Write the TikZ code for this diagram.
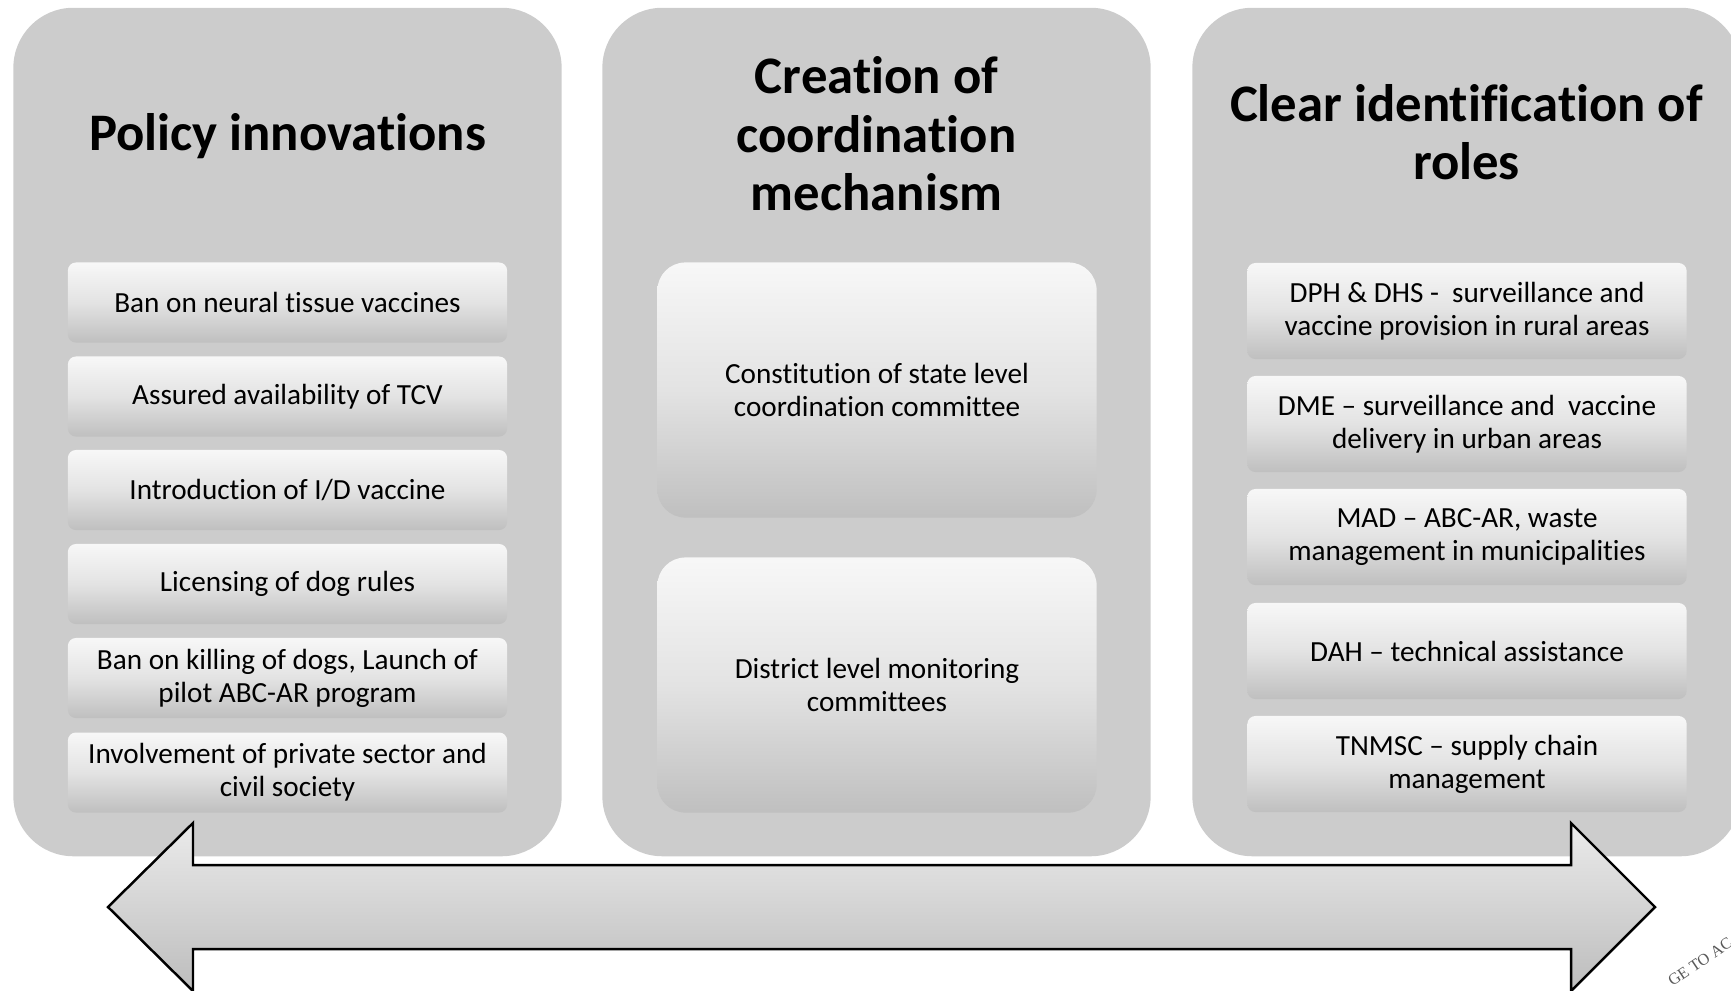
\documentclass[tikz,border=0pt]{standalone}
\usepackage{fontspec}
\setmainfont[Ligatures=NoCommon]{Carlito}
\newfontfamily\stampfont{Liberation Serif}

\begin{document}
\begin{tikzpicture}[x=0.01cm, y=-0.01cm,
    panel/.style={fill=black!20, rounded corners=0.6cm, minimum width=5.48cm, minimum height=8.48cm, inner sep=0pt},
    headline/.style={align=center, font=\fontsize{15}{16.6}\selectfont\bfseries},
    itembox/.style={top color=black!3, bottom color=black!25, middle color=black!11, rounded corners=0.08cm,
        minimum width=4.39cm, inner sep=0pt, align=center, font=\fontsize{8.3}{9.3}\selectfont},
    policybox/.style={itembox, minimum height=0.8cm},
    rolebox/.style={itembox, minimum height=0.96cm},
    coordbox/.style={itembox, rounded corners=0.28cm, minimum height=2.55cm},
    twoway/.style={draw=black, line width=0.7pt, top color=black!8, bottom color=black!26}]
    \useasboundingbox (0,0) rectangle (1731,990);
    \clip (0,0) rectangle (1731,990);

    % Spalten
    \foreach \x/\col in {287.5/pol, 876.5/coord, 1466.5/roles} {
        \node[panel] (\col) at (\x, 432) {};
    }
    \node[headline] (polhead) at (287.5, 136) {Policy innovations};
    \node[headline] (coordhead) at (876.5, 134) {Creation of\\coordination\\mechanism};
    \node[headline] (roleshead) at (1466.5, 132) {Clear identification of\\roles};

    % Policy innovations
    \node[policybox] (pol1) at (287.5, 302.5) {Ban on neural tissue vaccines};
    \node[policybox] (pol2) at (287.5, 396.5) {Assured availability of TCV};
    \node[policybox] (pol3) at (287.5, 490) {Introduction of I/D vaccine};
    \node[policybox] (pol4) at (287.5, 584) {Licensing of dog rules};
    \node[policybox] (pol5) at (287.5, 678) {Ban on killing of dogs, Launch of\\pilot ABC-AR program};
    \node[policybox] (pol6) at (287.5, 772.5) {Involvement of private sector and\\civil society};

    % Coordination
    \node[coordbox] (coord1) at (877, 390) {Constitution of state level\\coordination committee};
    \node[coordbox] (coord2) at (877, 685) {District level monitoring\\committees};

    % Roles
    \node[rolebox] (roles1) at (1467, 311) {DPH \& DHS -\ \ surveillance and\\vaccine provision in rural areas};
    \node[rolebox] (roles2) at (1467, 424) {DME -- surveillance and\ \ vaccine\\delivery in urban areas};
    \node[rolebox] (roles3) at (1467, 537) {MAD -- ABC-AR, waste\\management in municipalities};
    \node[rolebox] (roles4) at (1467, 651) {DAH -- technical assistance};
    \node[rolebox] (roles5) at (1467, 764) {TNMSC -- supply chain\\management};

    % Pfeil
    \draw[twoway] (108,907) -- (193,823) -- (193,865) -- (1571,865) -- (1571,823) -- (1655,907)
        -- (1571,991) -- (1571,949) -- (193,949) -- (193,991) -- cycle;

    \node[rotate=34, text=black!65, font=\stampfont\fontsize{4.6}{5}\selectfont] (stamp) at (1700, 962) {GE TO AC};
\end{tikzpicture}
\end{document}
